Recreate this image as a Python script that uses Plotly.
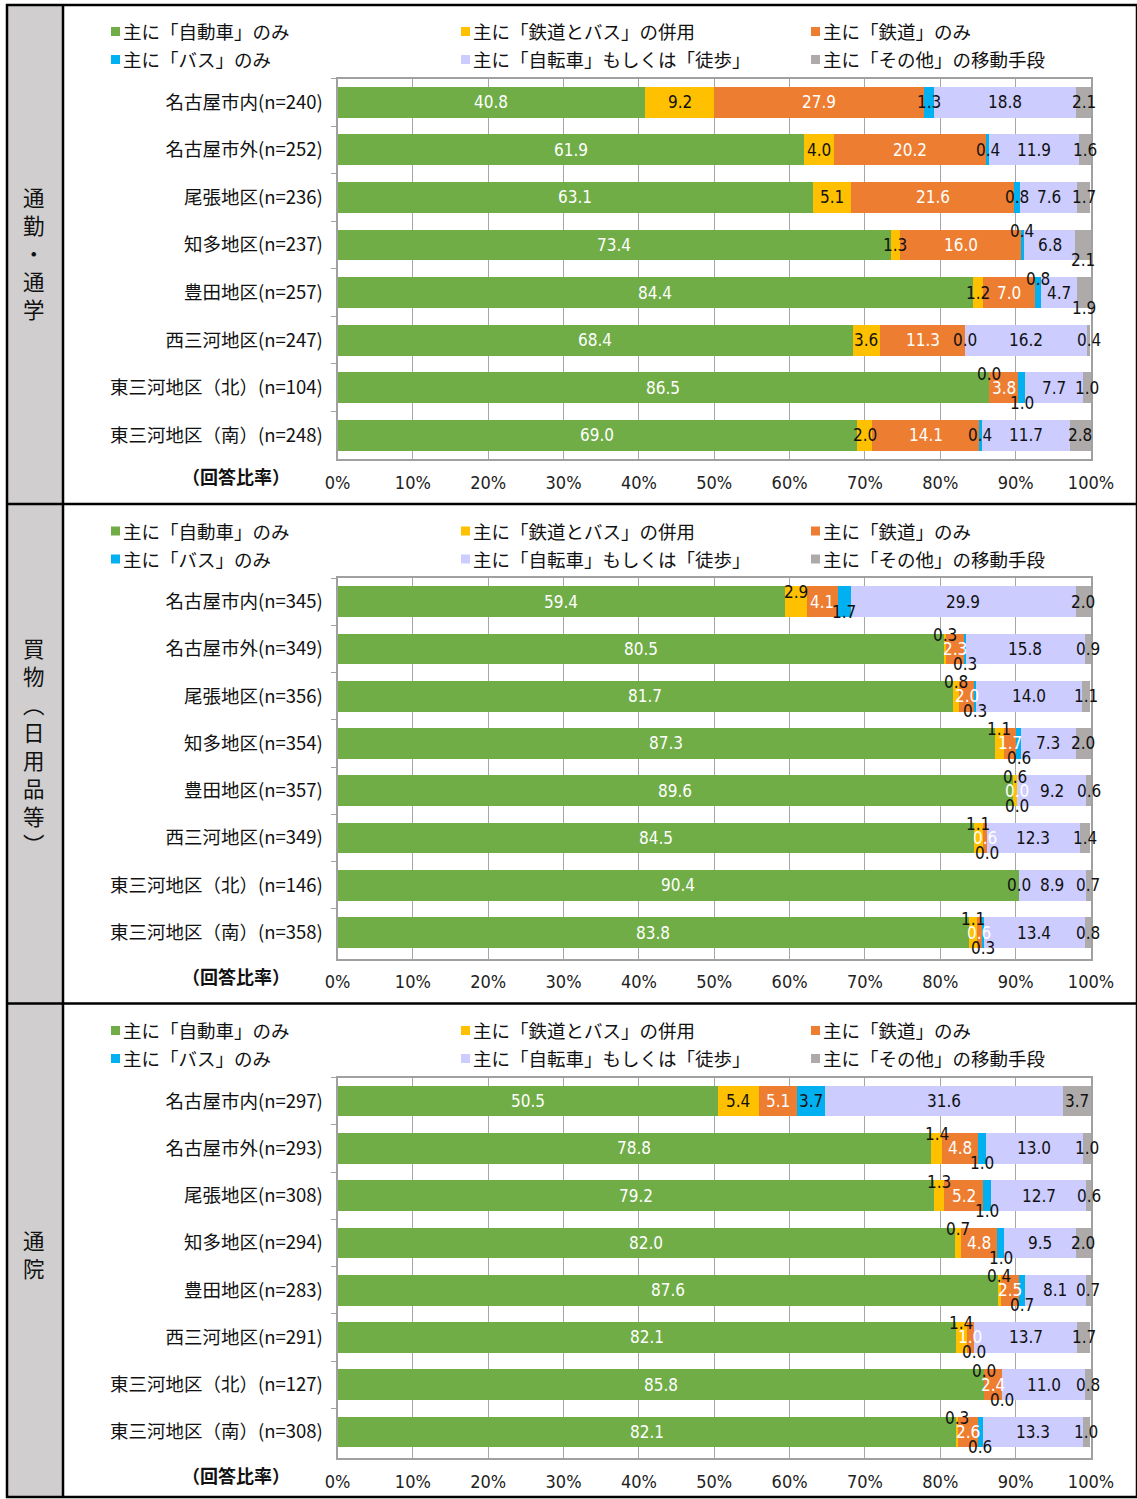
import plotly.graph_objects as go

W, H = 1137, 1499

# ---- data -------------------------------------------------------------
modes = ["主に「自動車」のみ", "主に「鉄道とバス」の併用", "主に「鉄道」のみ",
         "主に「バス」のみ", "主に「自転車」もしくは「徒歩」", "主に「その他」の移動手段"]
regions = ["名古屋市内", "名古屋市外", "尾張地区", "知多地区", "豊田地区",
           "西三河地区", "東三河地区（北）", "東三河地区（南）"]
purposes = ["通勤・通学", "買物︵日用品等︶", "通院"]

# 通勤・通学
commute_n = [240, 252, 236, 237, 257, 247, 104, 248]
commute_car = [40.8, 61.9, 63.1, 73.4, 84.4, 68.4, 86.5, 69.0]
commute_railbus = [9.2, 4.0, 5.1, 1.3, 1.2, 3.6, 0.0, 2.0]
commute_rail = [27.9, 20.2, 21.6, 16.0, 7.0, 11.3, 3.8, 14.1]
commute_bus = [1.3, 0.4, 0.8, 0.4, 0.8, 0.0, 1.0, 0.4]
commute_walk = [18.8, 11.9, 7.6, 6.8, 4.7, 16.2, 7.7, 11.7]
commute_other = [2.1, 1.6, 1.7, 2.1, 1.9, 0.4, 1.0, 2.8]

# 買物（日用品等）
shop_n = [345, 349, 356, 354, 357, 349, 146, 358]
shop_car = [59.4, 80.5, 81.7, 87.3, 89.6, 84.5, 90.4, 83.8]
shop_railbus = [2.9, 0.3, 0.8, 1.1, 0.6, 1.1, 0.0, 1.1]
shop_rail = [4.1, 2.3, 2.0, 1.7, 0.0, 0.6, 0.0, 0.6]
shop_bus = [1.7, 0.3, 0.3, 0.6, 0.0, 0.0, 0.0, 0.3]
shop_walk = [29.9, 15.8, 14.0, 7.3, 9.2, 12.3, 8.9, 13.4]
shop_other = [2.0, 0.9, 1.1, 2.0, 0.6, 1.4, 0.7, 0.8]

# 通院
clinic_n = [297, 293, 308, 294, 283, 291, 127, 308]
clinic_car = [50.5, 78.8, 79.2, 82.0, 87.6, 82.1, 85.8, 82.1]
clinic_railbus = [5.4, 1.4, 1.3, 0.7, 0.4, 1.4, 0.0, 0.3]
clinic_rail = [5.1, 4.8, 5.2, 4.8, 2.5, 1.0, 2.4, 2.6]
clinic_bus = [3.7, 1.0, 1.0, 1.0, 0.7, 0.0, 0.0, 0.6]
clinic_walk = [31.6, 13.0, 12.7, 9.5, 8.1, 13.7, 11.0, 13.3]
clinic_other = [3.7, 1.0, 0.6, 2.0, 0.7, 1.7, 0.8, 1.0]

xticks = [0, 10, 20, 30, 40, 50, 60, 70, 80, 90, 100]

panels = [
    (commute_n, [commute_car, commute_railbus, commute_rail, commute_bus, commute_walk, commute_other]),
    (shop_n, [shop_car, shop_railbus, shop_rail, shop_bus, shop_walk, shop_other]),
    (clinic_n, [clinic_car, clinic_railbus, clinic_rail, clinic_bus, clinic_walk, clinic_other]),
]

# ---- styling -----------------------------------------------------------
colors = ["#70ad47", "#ffc000", "#ed7d31", "#00b0f0", "#ccccff", "#aeaaaa"]
label_colors = ["white", "#111111", "white", "#111111", "#111111", "#111111"]
CJK = "Noto Sans CJK JP, Noto Sans, sans-serif"
NUM = "Liberation Sans Narrow, DejaVu Sans Condensed, Roboto, sans-serif"
AXIS_GRAY = "#a0a0a0"

UP, DN, HIDE = 14, -15, None
# vertical offsets (px) of small-segment value labels: (row, series) -> yshift
label_offsets = [
    {(3, 3): UP, (3, 5): DN, (4, 3): UP, (4, 5): DN, (6, 1): UP, (6, 3): DN},
    {(0, 1): 10, (0, 3): -10,
     (1, 1): UP, (1, 3): DN, (2, 1): UP, (2, 3): DN, (3, 1): UP, (3, 3): DN,
     (4, 1): UP, (4, 3): DN, (5, 1): UP, (5, 3): DN,
     (6, 1): HIDE, (6, 2): HIDE,
     (7, 1): UP, (7, 3): DN},
    {(1, 1): UP, (1, 3): DN, (2, 1): UP, (2, 3): DN, (3, 1): UP, (3, 3): DN,
     (4, 1): UP, (4, 3): DN, (5, 1): UP, (5, 3): DN, (6, 1): UP, (6, 3): DN,
     (7, 1): UP, (7, 3): DN},
]

# panel geometry in page pixels
PANEL_STEP = 499.5
PLOT_LEFT, PLOT_RIGHT = 337.5, 1091.0
PLOT_TOP, PLOT_BOTTOM = 78.5, 459.0
FRAME_LEFT, FRAME_RIGHT, FRAME_TOP, FRAME_BOTTOM = 7, 1137, 5, 1497
SIDE_RIGHT = 63


def px_x(px):
    return px / W


def px_y(py):
    return 1 - py / H


fig = go.Figure()
annotations = []
shapes = []

# left grey column and frame lines
shapes.append(dict(type="rect", xref="paper", yref="paper",
                   x0=px_x(FRAME_LEFT), x1=px_x(SIDE_RIGHT),
                   y0=px_y(FRAME_BOTTOM), y1=px_y(FRAME_TOP),
                   fillcolor="#d0cece", line=dict(width=0), layer="below"))
line_style = dict(color="black", width=2.5)
shapes.append(dict(type="rect", xref="paper", yref="paper",
                   x0=px_x(FRAME_LEFT), x1=px_x(FRAME_RIGHT),
                   y0=px_y(FRAME_BOTTOM), y1=px_y(FRAME_TOP), line=line_style))
shapes.append(dict(type="line", xref="paper", yref="paper",
                   x0=px_x(SIDE_RIGHT), x1=px_x(SIDE_RIGHT),
                   y0=px_y(FRAME_BOTTOM), y1=px_y(FRAME_TOP), line=line_style))
for k in (1, 2):
    yy = px_y(FRAME_TOP + k * PANEL_STEP - 0.5)
    shapes.append(dict(type="line", xref="paper", yref="paper",
                       x0=px_x(FRAME_LEFT), x1=px_x(FRAME_RIGHT),
                       y0=yy, y1=yy, line=line_style))

for p, (ns, series) in enumerate(panels):
    off = p * PANEL_STEP
    sfx = "" if p == 0 else str(p + 1)
    xa, ya = "x" + sfx, "y" + sfx
    cats = [f"{r}(n={n})" for r, n in zip(regions, ns)]

    for m, vals in enumerate(series):
        fig.add_trace(go.Bar(
            x=vals, y=cats, orientation="h", name=modes[m],
            marker=dict(color=colors[m], line=dict(width=0)),
            xaxis=xa, yaxis=ya, showlegend=False, hoverinfo="x+y+name",
        ))

    # value labels centred on each segment
    for r in range(len(cats)):
        start = 0.0
        for m, vals in enumerate(series):
            v = vals[r]
            key = (r, m)
            shift = label_offsets[p].get(key, 0)
            if key in label_offsets[p] and shift is None:
                start += v
                continue
            annotations.append(dict(
                x=start + v / 2, y=cats[r], xref=xa, yref=ya,
                xanchor="center", yanchor="middle",
                text=f"{v:.1f}", showarrow=False, yshift=shift,
                font=dict(family=NUM, size=17, color=label_colors[m]),
            ))
            start += v

    top, bottom = PLOT_TOP + off, PLOT_BOTTOM + off
    fig.layout["xaxis" + sfx] = dict(
        domain=[px_x(PLOT_LEFT), px_x(PLOT_RIGHT)], anchor=ya, range=[0, 100],
        tickmode="array", tickvals=xticks, ticktext=[f"{t}%" for t in xticks],
        showgrid=True, gridcolor="#a6a6a6", gridwidth=1, zeroline=False,
        showline=True, linecolor=AXIS_GRAY, linewidth=2, mirror=True,
        ticks="", ticklabelstandoff=6, automargin=False,
        tickfont=dict(family=NUM, size=18, color="#222222"), fixedrange=True,
    )
    fig.layout["yaxis" + sfx] = dict(
        domain=[px_y(bottom), px_y(top)], anchor=xa, type="category",
        categoryorder="array", categoryarray=cats, autorange="reversed",
        showgrid=False, zeroline=False,
        showline=True, linecolor=AXIS_GRAY, linewidth=2, mirror=True,
        ticks="outside", tickson="boundaries", ticklen=5, tickcolor=AXIS_GRAY,
        ticklabelstandoff=9, automargin=False,
        tickfont=dict(family=CJK, size=18.5, color="#111111"), fixedrange=True,
    )

    # legend: two rows of three entries
    for m, name in enumerate(modes):
        lx = [110, 460, 810][m % 3]
        ly = [31, 59][m // 3] + off
        shapes.append(dict(type="rect", xref="paper", yref="paper",
                           x0=px_x(lx + 1), x1=px_x(lx + 10),
                           y0=px_y(ly + 5), y1=px_y(ly - 4),
                           fillcolor=colors[m], line=dict(width=0)))
        annotations.append(dict(
            x=px_x(lx + 11), y=px_y(ly), xref="paper", yref="paper",
            xanchor="left", yanchor="middle", text=name, showarrow=False,
            font=dict(family=CJK, size=18.5, color="#111111"),
        ))

    # axis caption
    annotations.append(dict(
        x=px_x(236), y=px_y(476 + off), xref="paper", yref="paper",
        xanchor="center", yanchor="middle",
        text="<b>（回答比率）</b>", showarrow=False,
        font=dict(family=CJK, size=18, color="#111111"),
    ))

    # vertical purpose title in the grey column (one character per line)
    centre = [252, 746, 1253][p]
    annotations.append(dict(
        x=px_x(34), y=px_y(centre), xref="paper", yref="paper",
        text="<br>".join(purposes[p]), showarrow=False,
        xanchor="center", yanchor="middle", align="center",
        font=dict(family=CJK, size=21.5, color="#111111"),
    ))

fig.update_layout(
    width=W, height=H, autosize=False, barmode="stack", bargap=0.35,
    margin=dict(l=0, r=0, t=0, b=0, pad=0, autoexpand=False),
    paper_bgcolor="white", plot_bgcolor="white", showlegend=False,
    annotations=annotations, shapes=shapes,
    font=dict(family=CJK),
)

fig.write_html("out.html")
